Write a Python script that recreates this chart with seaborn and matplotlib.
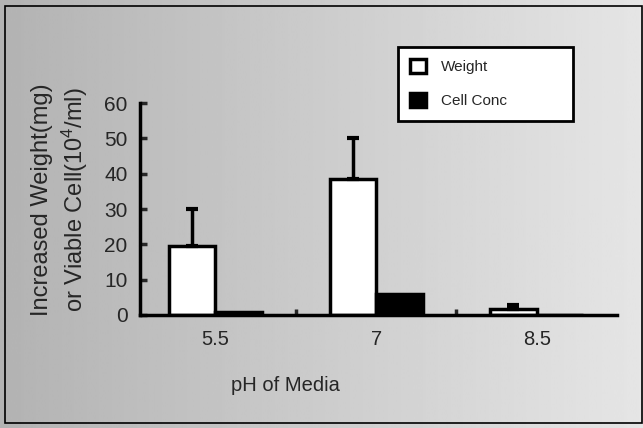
import numpy as np
import pandas as pd
import seaborn as sns
import matplotlib.pyplot as plt
from matplotlib.patches import Rectangle

# values
ph_levels = ['5.5', '7', '8.5']
weight = [19.5, 38.5, 1.7]
weight_err = [10.5, 11.5, 1.0]
cell_conc = [0.8, 6.0, 0.0]
series = ['Weight', 'Cell Conc']

sns.set_theme(style='white')
plt.rcParams['font.family'] = ['Liberation Sans', 'DejaVu Sans']
plt.rcParams['mathtext.fontset'] = 'custom'
plt.rcParams['mathtext.rm'] = 'Liberation Sans'
plt.rcParams['mathtext.it'] = 'Liberation Sans'

df = pd.DataFrame({
  'pH': ph_levels * 2,
  'value': weight + cell_conc,
  'series': [series[0]] * 3 + [series[1]] * 3,
})

fig = plt.figure(figsize=(6.43, 4.28), dpi=100)

# stippled grey backdrop of the scan, darker on the left
bg = fig.add_axes([0, 0, 1, 1], zorder=-10)
grad = np.linspace(0.70, 0.90, 256).reshape(1, -1)
bg.imshow(grad, cmap='gray', vmin=0, vmax=1, aspect='auto', extent=[0, 1, 0, 1])
bg.set_axis_off()
fig.patches.append(Rectangle((5 / 643, 5 / 428), 637 / 643, 417 / 428, transform=fig.transFigure,
                             fill=False, edgecolor='black', linewidth=1.2))

ax = fig.add_axes([140 / 643, 1 - 315 / 428, 477 / 643, 212 / 428])
ax.patch.set_alpha(0)

sns.barplot(
  data=df, x='pH', y='value', hue='series', order=ph_levels, hue_order=series,
  palette=['white', 'black'], edgecolor='black', linewidth=2.5,
  width=0.58, gap=0, errorbar=None, ax=ax,
)

# upward-only error bars on the weight bars
bars = ax.containers[0]
xs = [b.get_x() + b.get_width() / 2 for b in bars]
ax.errorbar(xs, weight, yerr=[np.zeros(len(weight)), weight_err], fmt='none',
            ecolor='black', elinewidth=2.5, capsize=4.5, capthick=3, zorder=1)

ax.set_ylim(0, 60)
ax.set_yticks(range(0, 61, 10))
ax.set_xlim(-0.47, 2.5)
ax.set_xticks([0.5, 1.5], minor=True)
sns.despine(ax=ax)
for side in ['left', 'bottom']:
  ax.spines[side].set_linewidth(2.5)
  ax.spines[side].set_color('black')
ax.tick_params(axis='y', direction='in', length=5, width=2.5, labelsize=15, pad=9, left=True)
ax.tick_params(axis='x', which='major', length=0, labelsize=14.5, pad=11)
ax.tick_params(axis='x', which='minor', direction='in', length=4, width=2.5, bottom=True)

ax.set_xlabel('pH of Media', fontsize=14.5)
ax.xaxis.set_label_coords(0.304, -0.29)
ax.set_ylabel('Increased Weight(mg)\nor Viable Cell(10$^4$/ml)', fontsize=17, linespacing=1.3)
ax.yaxis.set_label_coords(-0.104, 0.545)

ax.legend(loc='upper left', mode='expand',
          bbox_to_anchor=(398 / 643, 1 - 117 / 428, 175 / 643, 70 / 428), bbox_transform=fig.transFigure,
          frameon=True, fancybox=False, edgecolor='black', framealpha=1, fontsize=11,
          handlelength=1.0, handleheight=1.0, borderpad=0.8, labelspacing=1.25, handletextpad=1.0,
          borderaxespad=0)
ax.get_legend().get_frame().set_linewidth(2)

fig.savefig('out.png', dpi=100)
